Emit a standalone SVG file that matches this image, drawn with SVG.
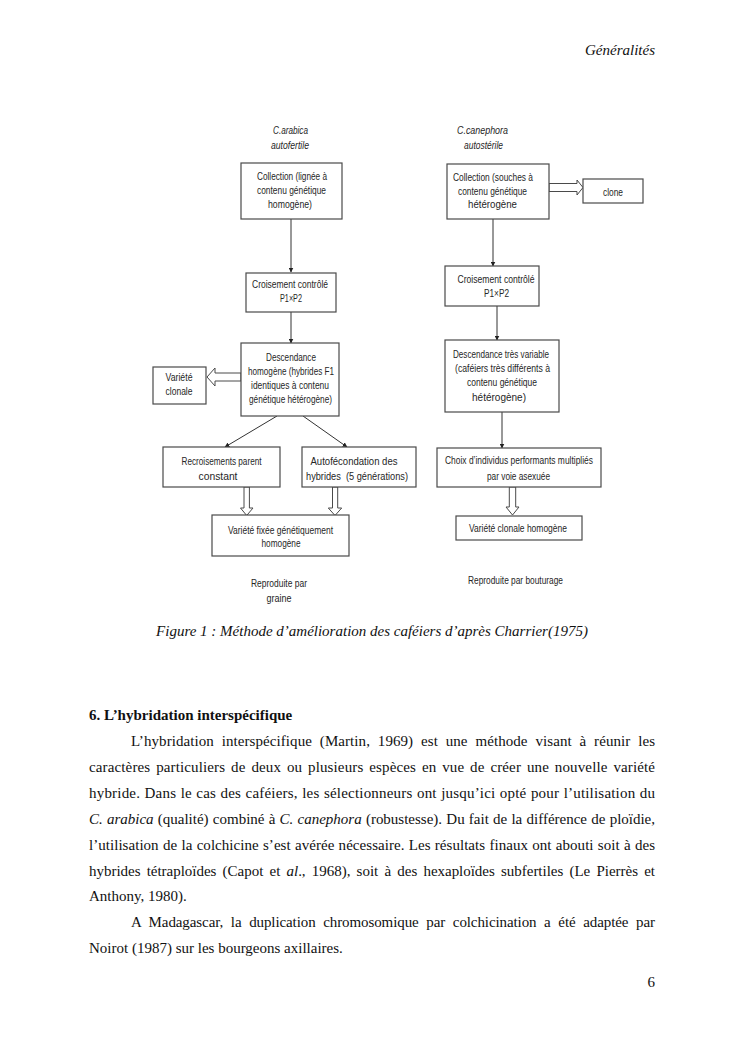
<svg xmlns="http://www.w3.org/2000/svg" width="745" height="1053" viewBox="0 0 745 1053">
<style>
.bg{fill:#ffffff}
.box{fill:#ffffff;stroke:#4a4a4a;stroke-width:1.2}
.t{font-family:"Liberation Sans Narrow","Liberation Sans",Arial,sans-serif;font-size:11px;fill:#262626;text-anchor:middle}
.ti{font-style:italic}
.ln{stroke:#333;stroke-width:1;fill:none}
.hol{fill:#ffffff;stroke:#4a4a4a;stroke-width:1}
.body{font-family:"Liberation Serif","Times New Roman",serif;font-size:15px;fill:#111}
.it{font-style:italic}
</style>
<defs>
<marker id="ah" viewBox="0 0 10 10" refX="9" refY="5" markerWidth="5" markerHeight="5" orient="auto" markerUnits="userSpaceOnUse">
<path d="M0,0 L10,5 L0,10 Z" fill="#222"/>
</marker>
</defs>
<rect class="bg" x="0" y="0" width="745" height="1053"/>

<text class="body it" x="655" y="55" text-anchor="end" font-size="14">Généralités</text>

<g id="connectors">
<line class="ln" x1="291" y1="219" x2="291" y2="272" marker-end="url(#ah)"/>
<line class="ln" x1="291" y1="312" x2="291" y2="343" marker-end="url(#ah)"/>
<line class="ln" x1="277" y1="416" x2="225" y2="447" marker-end="url(#ah)"/>
<line class="ln" x1="303" y1="416" x2="347" y2="447" marker-end="url(#ah)"/>
<line class="ln" x1="493" y1="219" x2="493" y2="266" marker-end="url(#ah)"/>
<line class="ln" x1="497" y1="306" x2="497" y2="340" marker-end="url(#ah)"/>
<line class="ln" x1="502" y1="412" x2="502" y2="448" marker-end="url(#ah)"/>
<path class="hol" d="M549,183.5 L577,183.5 L577,180 L583,187.5 L577,195 L577,191.5 L549,191.5 Z"/>
<path class="hol" d="M241,373 L215,373 L215,368 L207,377 L215,386 L215,381 L241,381 Z"/>
<path class="hol" d="M244,487 L244,508 L240.5,508 L246.7,515.5 L253,508 L249.4,508 L249.4,487 Z"/>
<path class="hol" d="M332.5,487 L332.5,508 L328.3,508 L335,515.5 L341.7,508 L337.7,508 L337.7,487 Z"/>
<path class="hol" d="M509.3,487 L509.3,507 L506,507 L512.5,515 L519,507 L515.7,507 L515.7,487 Z"/>
</g>

<g id="label-arabica">
<text class="t ti" x="290.5" y="134" textLength="35" lengthAdjust="spacingAndGlyphs">C.arabica</text>
<text class="t ti" x="290" y="149" textLength="38" lengthAdjust="spacingAndGlyphs">autofertile</text>
</g>
<g id="node-collection-a">
<rect class="box" x="241" y="163" width="101" height="56"/>
<text class="t" x="292" y="180" textLength="70" lengthAdjust="spacingAndGlyphs">Collection (lignée à</text>
<text class="t" x="291.5" y="194" textLength="69" lengthAdjust="spacingAndGlyphs">contenu génétique</text>
<text class="t" x="290" y="208" textLength="44" lengthAdjust="spacingAndGlyphs">homogène)</text>
</g>
<g id="node-croisement-a">
<rect class="box" x="246" y="273" width="90" height="39"/>
<text class="t" x="290" y="288" textLength="76" lengthAdjust="spacingAndGlyphs">Croisement contrôlé</text>
<text class="t" x="291" y="302" textLength="22" lengthAdjust="spacingAndGlyphs">P1×P2</text>
</g>
<g id="node-descendance-a">
<rect class="box" x="241" y="343" width="98" height="73"/>
<text class="t" x="291" y="360.5" textLength="50" lengthAdjust="spacingAndGlyphs">Descendance</text>
<text class="t" x="291" y="374.5" textLength="86" lengthAdjust="spacingAndGlyphs">homogène (hybrides F1</text>
<text class="t" x="290" y="388.5" textLength="78" lengthAdjust="spacingAndGlyphs">identiques à contenu</text>
<text class="t" x="290.5" y="402.5" textLength="83" lengthAdjust="spacingAndGlyphs">génétique hétérogène)</text>
</g>
<g id="node-variete-clonale">
<rect class="box" x="153" y="367" width="53" height="37"/>
<text class="t" x="179" y="380.5" textLength="27" lengthAdjust="spacingAndGlyphs">Variété</text>
<text class="t" x="179" y="395" textLength="27" lengthAdjust="spacingAndGlyphs">clonale</text>
</g>
<g id="node-recroisements">
<rect class="box" x="163" y="447" width="117" height="40"/>
<text class="t" x="221.5" y="464.5" textLength="80" lengthAdjust="spacingAndGlyphs">Recroisements parent</text>
<text class="t" x="218" y="480" textLength="39" lengthAdjust="spacingAndGlyphs">constant</text>
</g>
<g id="node-autofecondation">
<rect class="box" x="302" y="447" width="114" height="40"/>
<text class="t" x="354" y="464.5" textLength="87" lengthAdjust="spacingAndGlyphs">Autofécondation des</text>
<text class="t" x="357" y="480" textLength="102" lengthAdjust="spacingAndGlyphs" xml:space="preserve">hybrides  (5 générations)</text>
</g>
<g id="node-variete-fixee">
<rect class="box" x="212" y="515" width="137" height="41"/>
<text class="t" x="280.5" y="533.5" textLength="105" lengthAdjust="spacingAndGlyphs">Variété fixée génétiquement</text>
<text class="t" x="281" y="547" textLength="39" lengthAdjust="spacingAndGlyphs">homogène</text>
</g>
<g id="label-graine">
<text class="t" x="279" y="587" textLength="56" lengthAdjust="spacingAndGlyphs">Reproduite par</text>
<text class="t" x="279" y="602" textLength="25" lengthAdjust="spacingAndGlyphs">graine</text>
</g>

<g id="label-canephora">
<text class="t ti" x="482.5" y="134" textLength="51" lengthAdjust="spacingAndGlyphs">C.canephora</text>
<text class="t ti" x="483.5" y="149" textLength="39" lengthAdjust="spacingAndGlyphs">autostérile</text>
</g>
<g id="node-collection-c">
<rect class="box" x="447" y="164" width="102" height="55"/>
<text class="t" x="493" y="180.5" textLength="80" lengthAdjust="spacingAndGlyphs">Collection (souches à</text>
<text class="t" x="492.5" y="194.5" textLength="69" lengthAdjust="spacingAndGlyphs">contenu génétique</text>
<text class="t" x="492.5" y="208" textLength="49" lengthAdjust="spacingAndGlyphs">hétérogène</text>
</g>
<g id="node-clone">
<rect class="box" x="583" y="179" width="60" height="24"/>
<text class="t" x="613" y="195.5" textLength="20" lengthAdjust="spacingAndGlyphs">clone</text>
</g>
<g id="node-croisement-c">
<rect class="box" x="445" y="266" width="94" height="40"/>
<text class="t" x="496" y="282.5" textLength="77" lengthAdjust="spacingAndGlyphs">Croisement contrôlé</text>
<text class="t" x="496.5" y="296.5" textLength="25" lengthAdjust="spacingAndGlyphs">P1×P2</text>
</g>
<g id="node-descendance-c">
<rect class="box" x="445" y="340" width="114" height="72"/>
<text class="t" x="501" y="357.5" textLength="96" lengthAdjust="spacingAndGlyphs">Descendance très variable</text>
<text class="t" x="502.5" y="371.5" textLength="95" lengthAdjust="spacingAndGlyphs">(caféiers très différents à</text>
<text class="t" x="502" y="386" textLength="70" lengthAdjust="spacingAndGlyphs">contenu génétique</text>
<text class="t" x="499" y="401" textLength="54" lengthAdjust="spacingAndGlyphs">hétérogène)</text>
</g>
<g id="node-choix">
<rect class="box" x="437" y="448" width="164" height="39"/>
<text class="t" x="519" y="464" textLength="148" lengthAdjust="spacingAndGlyphs">Choix d’individus performants multipliés</text>
<text class="t" x="518.5" y="479.5" textLength="63" lengthAdjust="spacingAndGlyphs">par voie asexuée</text>
</g>
<g id="node-variete-clonale-homogene">
<rect class="box" x="456" y="516" width="126" height="24"/>
<text class="t" x="518" y="532" textLength="98" lengthAdjust="spacingAndGlyphs">Variété clonale homogène</text>
</g>
<g id="label-bouturage">
<text class="t" x="515.5" y="584" textLength="95" lengthAdjust="spacingAndGlyphs">Reproduite par bouturage</text>
</g>

<text class="body it" x="372" y="636" text-anchor="middle">Figure 1 : Méthode d’amélioration des caféiers d’après Charrier(1975)</text>

<text class="body" x="89" y="720" font-weight="bold">6. L’hybridation interspécifique</text>
<text class="body" x="131" y="746" textLength="524" word-spacing="4">L’hybridation interspécifique (Martin, 1969) est une méthode visant à réunir les</text>
<text class="body" x="89" y="772" textLength="566" word-spacing="2">caractères particuliers de deux ou plusieurs espèces en vue de créer une nouvelle variété</text>
<text class="body" x="89" y="798" textLength="566" word-spacing="0.5">hybride. Dans le cas des caféiers, les sélectionneurs ont jusqu’ici opté pour l’utilisation du</text>
<text class="body" x="89" y="824" textLength="566" word-spacing="0.5"><tspan class="it">C. arabica</tspan> (qualité) combiné à <tspan class="it">C. canephora</tspan> (robustesse). Du fait de la différence de ploïdie,</text>
<text class="body" x="89" y="849.5" textLength="566" word-spacing="0.5">l’utilisation de la colchicine s’est avérée nécessaire. Les résultats finaux ont abouti soit à des</text>
<text class="body" x="89" y="875.5" textLength="566" word-spacing="2.5">hybrides tétraploïdes (Capot et <tspan class="it">al</tspan>., 1968), soit à des hexaploïdes subfertiles (Le Pierrès et</text>
<text class="body" x="89" y="901">Anthony, 1980).</text>
<text class="body" x="131" y="927" textLength="524" word-spacing="4">A Madagascar, la duplication chromosomique par colchicination a été adaptée par</text>
<text class="body" x="89" y="953">Noirot (1987) sur les bourgeons axillaires.</text>
<text class="body" x="655" y="987" text-anchor="end">6</text>
</svg>
